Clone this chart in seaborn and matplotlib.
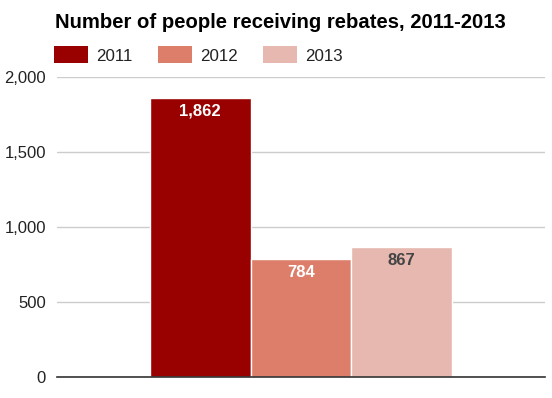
import matplotlib
matplotlib.use("Agg")
import matplotlib.pyplot as plt
import seaborn as sns
import pandas as pd
from matplotlib.patches import Patch

years = ["2011", "2012", "2013"]
values = [1862, 784, 867]
colors = ["#990000", "#dd7e6b", "#e6b8af"]
label_colors = ["white", "white", "#444444"]
yticks = [0, 500, 1000, 1500, 2000]
title = "Number of people receiving rebates, 2011-2013"

sns.set_theme(style="white")
plt.rcParams["font.family"] = ["Liberation Sans", "DejaVu Sans"]

df = pd.DataFrame({"cat": ["all"] * 3, "year": years, "value": values})

fig = plt.figure(figsize=(5.52, 3.98), dpi=100)
ax = fig.add_axes([57 / 552, 1 - 377 / 398, 488 / 552, 300 / 398])
sns.barplot(data=df, x="cat", y="value", hue="year", palette=colors,
            width=0.9, saturation=1, edgecolor="white", linewidth=1,
            ax=ax, legend=False)

ax.set_xlim(-0.727, 0.727)
ax.set_ylim(0, 2000)
ax.set_yticks(yticks)
ax.set_yticklabels([f"{v:,}" for v in yticks], fontsize=12, color="#222222")
ax.set_xticks([])
ax.set_xlabel("")
ax.set_ylabel("")
ax.grid(axis="y", color="#cccccc", linewidth=1)
ax.set_axisbelow(True)
for s in ["top", "right", "left"]:
    ax.spines[s].set_visible(False)
ax.spines["bottom"].set_color("#333333")
ax.spines["bottom"].set_linewidth(1.2)
ax.tick_params(axis="y", length=0, pad=8)

for bar, v, c in zip(ax.patches, values, label_colors):
    ax.annotate(f"{v:,}", (bar.get_x() + bar.get_width() / 2, v),
                xytext=(0, -4), textcoords="offset points",
                ha="center", va="top", fontsize=12, fontweight="bold", color=c)

fig.text(55 / 552, 1 - 23 / 398, title, fontsize=14.6, fontweight="bold",
         ha="left", va="center", color="black")

handles = [Patch(facecolor=c, edgecolor="none") for c in colors]
fig.legend(handles, years, loc="center left", bbox_to_anchor=(39 / 552, 1 - 55 / 398),
           ncol=3, frameon=False, fontsize=12.2, handlelength=2.0, handleheight=1.15,
           columnspacing=1.5, handletextpad=0.47, labelcolor="#222222")

fig.savefig("out.png", dpi=100)
